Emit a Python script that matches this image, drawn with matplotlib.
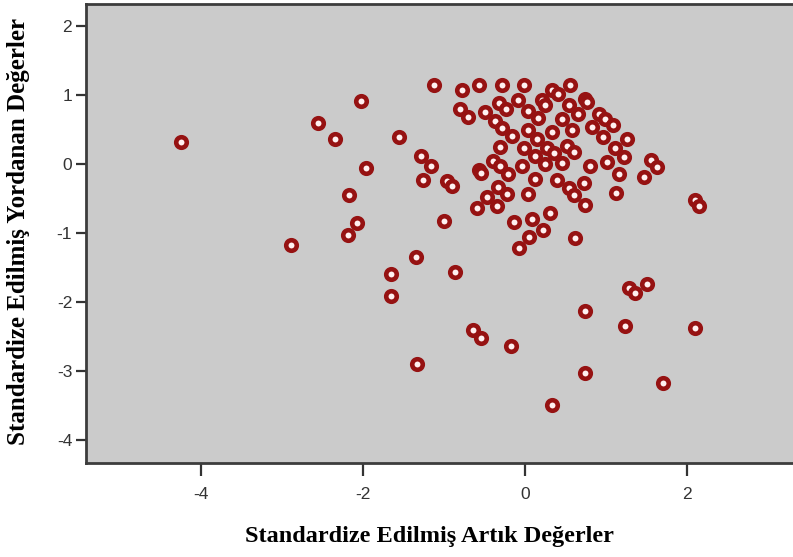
import matplotlib.pyplot as plt

# standardized residuals (x) vs standardized predicted values (y)
resid = [-4.25, -2.03, -2.56, -2.35, -1.56, -1.97, -2.17, -2.07, -2.19, -2.89,
         -1.66, -1.66, -1.12, -1.29, -1.16, -1.26, -1.00, -1.35, -0.87, -0.78,
         -0.57, -0.29, -0.01, 0.33, 0.41, 0.55, -0.81, -0.71, -0.49, -0.32,
         -0.24, -0.09, 0.21, 0.24, 0.04, 0.74, 0.76, 0.54, 0.65, 0.91,
         0.98, 1.08, 0.45, 0.16, -0.37, -0.28, -0.16, 0.04, 0.14, 0.33,
         0.58, 0.82, 0.96, 1.11, 1.26, 1.22, -0.31, -0.02, 0.12, 0.27,
         0.35, 0.52, 0.60, -0.97, -0.90, -0.57, -0.54, -0.40, -0.31, -0.21,
         -0.04, 0.25, 0.46, 0.80, 1.01, 1.16, 1.47, 1.55, 1.63, 0.12,
         0.39, 0.72, -0.33, -0.23, 0.04, -0.47, -0.35, -0.60, 0.54, 0.60,
         0.74, 1.12, -0.14, 0.08, 0.31, 0.22, 0.05, -0.07, 0.62, 2.09,
         2.14, 1.28, 1.36, 1.50, 0.74, 1.23, 2.09, -0.65, -0.55, -0.18,
         -1.33, 0.74, 1.70, 0.33]
pred = [0.32, 0.92, 0.60, 0.37, 0.39, -0.05, -0.45, -0.85, -1.02, -1.17,
        -1.59, -1.91, 1.14, 0.12, -0.03, -0.23, -0.82, -1.34, -1.57, 1.07,
        1.14, 1.14, 1.14, 1.08, 1.02, 1.15, 0.80, 0.69, 0.75, 0.88,
        0.80, 0.93, 0.93, 0.86, 0.77, 0.95, 0.90, 0.85, 0.72, 0.73,
        0.66, 0.56, 0.65, 0.67, 0.62, 0.52, 0.41, 0.49, 0.36, 0.46,
        0.49, 0.54, 0.40, 0.24, 0.36, 0.10, 0.25, 0.24, 0.12, 0.24,
        0.16, 0.26, 0.17, -0.25, -0.32, -0.09, -0.13, 0.05, -0.03, -0.14,
        -0.03, 0.00, 0.01, -0.03, 0.03, -0.14, -0.18, 0.06, -0.04, -0.22,
        -0.23, -0.28, -0.33, -0.43, -0.43, -0.48, -0.61, -0.64, -0.35, -0.45,
        -0.59, -0.42, -0.84, -0.79, -0.71, -0.95, -1.06, -1.21, -1.07, -0.52,
        -0.61, -1.79, -1.87, -1.73, -2.13, -2.35, -2.38, -2.41, -2.52, -2.63,
        -2.89, -3.03, -3.17, -3.49]

xticks = [-4, -2, 0, 2]
yticks = [-4, -3, -2, -1, 0, 1, 2]

fig = plt.figure(figsize=(7.93, 5.57), dpi=100)
ax = fig.add_axes([0.1085, 0.1688, 0.895, 0.824])
ax.set_facecolor('#cbcbcb')

ax.plot(resid, pred, 'o', ms=7.6, mew=3.3, mec='#961212', mfc='#fff0f0', ls='none')

ax.set_xlim(-5.42, 3.34)
ax.set_ylim(-4.33, 2.32)
ax.set_xticks(xticks)
ax.set_yticks(yticks)
ax.set_xticklabels([str(v) for v in xticks], family='Liberation Sans', fontsize=12.5, color='#333333')
ax.set_yticklabels([str(v) for v in yticks], family='Liberation Sans', fontsize=12.5, color='#333333')
ax.tick_params(axis='x', length=9, width=1.6, color='#333333', pad=8)
ax.tick_params(axis='y', length=7, width=1.6, color='#333333', pad=3)
for s in ax.spines.values():
    s.set_linewidth(2)
    s.set_color('#3c3c3c')

ax.set_xlabel('Standardize Edilmiş Artık Değerler', family='Liberation Serif',
              fontweight='bold', fontsize=17.5)
ax.xaxis.set_label_coords(0.484, -0.138)
ax.set_ylabel('Standardize Edilmiş Yordanan Değerler', family='Liberation Serif',
              fontweight='bold', fontsize=18)
ax.yaxis.set_label_coords(-0.079, 0.505)

fig.savefig('out.png', dpi=100)
